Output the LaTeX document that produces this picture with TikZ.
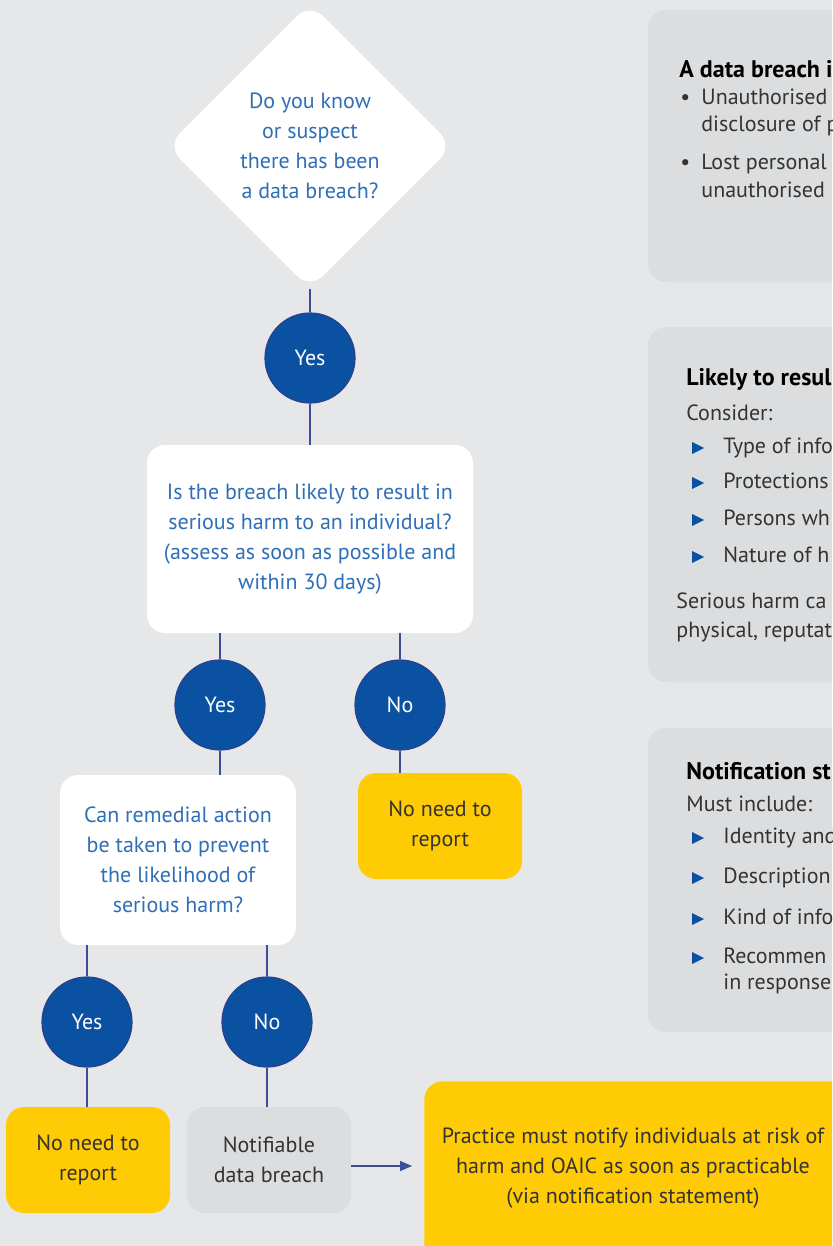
\documentclass[tikz,border=0pt]{standalone}
\usepackage{fontspec}
\setmainfont{PT Sans}
\usetikzlibrary{positioning, shapes.geometric, arrows.meta}
\definecolor{bggray}{HTML}{E6E7E9}
\definecolor{panelgray}{HTML}{DCDDDF}
\definecolor{ansblue}{HTML}{0A52A1}
\definecolor{ringblue}{HTML}{2B3F8C}
\definecolor{qblue}{HTML}{2F6FB7}
\definecolor{linkblue}{HTML}{3C4F96}
\definecolor{alertyellow}{HTML}{FFCB05}
\definecolor{inktext}{HTML}{333333}
\newcommand{\flowfont}{\fontsize{11}{15}\selectfont}
\newcommand{\tri}[1]{\fill[ansblue] (#1) ++(0,-6) -- ++(0,12) -- ++(12,-6) -- cycle;}

\tikzset{
  question/.style={fill=white, rounded corners=9pt, align=center, text=qblue, font=\flowfont, inner sep=0pt},
  answer/.style={circle, fill=ansblue, draw=ringblue, line width=0.6pt, minimum size=45pt, inner sep=0pt, text=white, font=\flowfont},
  outcome/.style={rounded corners=9pt, align=center, text=inktext, font=\flowfont, inner sep=0pt},
  link/.style={draw=linkblue, line width=0.7pt},
  panel/.style={fill=panelgray, rounded corners=9pt},
  paneltext/.style={anchor=mid west, text=inktext, font=\flowfont, inner sep=0pt},
  panelhead/.style={paneltext, text=black, font=\fontsize{12}{15}\selectfont\bfseries},
}

\begin{document}
\begin{tikzpicture}[x=0.5pt, y=-0.5pt]
    \fill[bggray] (0,0) rectangle (832,1246);
    \useasboundingbox (0,0) rectangle (832,1246);
    \clip (0,0) rectangle (832,1246);

    % questions
    \node[question, diamond, aspect=1, minimum width=143pt, minimum height=143pt] (breach) at (310,146)
        {Do you know\\or suspect\\there has been\\a data breach?};
    \node[question, minimum width=163pt, minimum height=94pt] (harm) at (310,539)
        {Is the breach likely to result in\\serious harm to an individual?\\(assess as soon as possible and\\within 30 days)};
    \node[question, minimum width=118pt, minimum height=85pt] (remedy) at (178,860)
        {Can remedial action\\be taken to prevent\\the likelihood of\\serious harm?};

    % answers
    \node[answer] (yes1) at (310,358) {Yes};
    \node[answer] (yes2) at (220,705) {Yes};
    \node[answer] (no2) at (400,705) {No};
    \node[answer] (yes3) at (87,1022) {Yes};
    \node[answer] (no3) at (267,1022) {No};

    % outcomes
    \node[outcome, fill=alertyellow, minimum width=82pt, minimum height=53pt] (noreport1) at (440,826) {No need to\\report};
    \node[outcome, fill=alertyellow, minimum width=82pt, minimum height=53pt] (noreport2) at (88,1160) {No need to\\report};
    \node[outcome, fill=panelgray, minimum width=82pt, minimum height=53pt] (notifiable) at (269,1160) {Notifiable\\data breach};
    \node[outcome, fill=alertyellow, anchor=north west, minimum width=240pt, minimum height=100pt] (actbox) at (424,1081) {};
    \node[outcome] (act) at (633,1168)
        {Practice must notify individuals at risk of\\harm and OAIC as soon as practicable\\(via notification statement)};

    % connectors
    \draw[link] (breach) -- (yes1);
    \draw[link] (yes1) -- (harm);
    \draw[link] (yes2 |- harm.south) -- (yes2);
    \draw[link] (no2 |- harm.south) -- (no2);
    \draw[link] (yes2) -- (yes2 |- remedy.north);
    \draw[link] (no2) -- (no2 |- noreport1.north);
    \draw[link] (yes3 |- remedy.south) -- (yes3);
    \draw[link] (no3 |- remedy.south) -- (no3);
    \draw[link] (yes3) -- (yes3 |- noreport2.north);
    \draw[link] (no3) -- (no3 |- notifiable.north);
    \draw[link, -{Triangle[length=6pt, width=5pt]}] ([yshift=-3pt]notifiable.east) -- ([yshift=-3pt, xshift=-6pt]notifiable.east -| actbox.west);

    % data breach panel
    \path[panel] (648,10) rectangle (900,282);
    \node[panelhead] (dbhead) at (679,73) {A data breach i};
    \node[paneltext] (dbdot1) at (680,100) {•};
    \node[paneltext] (db1) at (701,100) {Unauthorised};
    \node[paneltext] (db1b) at (701,127) {disclosure of p};
    \node[paneltext] (dbdot2) at (680,165) {•};
    \node[paneltext] (db2) at (701,165) {Lost personal};
    \node[paneltext] (db2b) at (701,193) {unauthorised};

    % serious harm panel
    \path[panel] (648,327) rectangle (900,682);
    \node[panelhead] (shhead) at (686,380) {Likely to resul};
    \node[paneltext] (shcons) at (686,415) {Consider:};
    \foreach \yy/\txt in {448/Type of info, 483/Protections, 520/Persons wh, 557/Nature of h} {
        \tri{692,\yy}
        \node[paneltext] at (723,\yy) {\txt};
    }
    \node[paneltext] (sh1) at (676,603) {Serious harm ca};
    \node[paneltext] (sh2) at (676,632) {physical, reputat};

    % notification panel
    \path[panel] (648,728) rectangle (900,1032);
    \node[panelhead] (nshead) at (686,774) {Notification st};
    \node[paneltext] (nsmust) at (686,806) {Must include:};
    \foreach \yy/\txt in {838/Identity and, 878/Description, 919/Kind of info, 958/Recommen} {
        \tri{692,\yy}
        \node[paneltext] at (723,\yy) {\txt};
    }
    \node[paneltext] (ns4b) at (723,984) {in response};
\end{tikzpicture}
\end{document}
